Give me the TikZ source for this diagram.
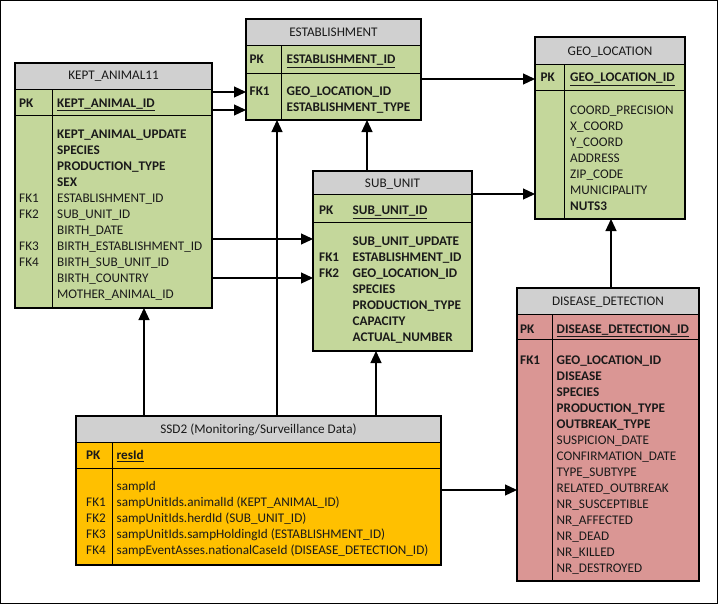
\documentclass[tikz,border=0pt]{standalone}
\usepackage{fontspec}
\setmainfont{Carlito}
\usetikzlibrary{arrows.meta}
\definecolor{tgreen}{HTML}{C4D79B}
\definecolor{thead}{HTML}{D0D0D0}
\definecolor{tpink}{HTML}{DA9694}
\definecolor{torange}{HTML}{FFC000}
\definecolor{ink}{HTML}{1A1A1A}
\tikzset{
  sep/.style={line width=1pt},
  tblbox/.style={draw, line width=1.2pt, inner sep=0pt, outer sep=0pt},
  fld/.style={anchor=base west, inner sep=0pt, text=ink, font=\fontsize{13.2}{15}\selectfont},
  hdr/.style={anchor=base, inner sep=0pt, text=ink, font=\fontsize{13.2}{15}\selectfont},
  arr/.style={line width=1.2pt, -{Triangle[length=12pt,width=11pt]}},
}
\newcommand\ertable[8]{%
  \fill[#8] (#2,#3) rectangle (#4,#5);
  \fill[thead] (#2,#3) rectangle (#4,#6);
  \draw[sep] (#2,#6) -- (#4,#6);
  \draw[sep] (#2,#7) -- (#4,#7);
  \node[tblbox, minimum width={#4-#2}, minimum height={#5-#3}] (#1) at ({(#2+#4)/2},{(#3+#5)/2}) {};
}
\begin{document}
\begin{tikzpicture}[x=1pt,y=-1pt]
\useasboundingbox (0,0) rectangle (719,605);
\draw[line width=1pt] (0.5,0.5) rectangle (717.5,603.5);

% KEPT_ANIMAL11
\ertable{ka}{15}{63}{212}{308}{89}{115}{tgreen}
\draw[sep] (52,89) -- (52,308);
\node[hdr] (ka-h) at (113.5,79.5) {KEPT\_ANIMAL11};
\node[fld] (ka-pkl) at (19,107) {\textbf{PK}};
\node[fld] (ka-pk) at (57,107) {\underline{\textbf{KEPT\_ANIMAL\_ID}}};
\foreach \t [count=\i] in {\textbf{KEPT\_ANIMAL\_UPDATE},\textbf{SPECIES},\textbf{PRODUCTION\_TYPE},\textbf{SEX},ESTABLISHMENT\_ID,SUB\_UNIT\_ID,BIRTH\_DATE,BIRTH\_ESTABLISHMENT\_ID,BIRTH\_SUB\_UNIT\_ID,BIRTH\_COUNTRY,MOTHER\_ANIMAL\_ID}
  \node[fld] (ka-f\i) at (57,{138+16*(\i-1)}) {\t};
\node[fld] (ka-l1) at (19,{138+16*4}) {FK1};
\node[fld] (ka-l2) at (19,{138+16*5}) {FK2};
\node[fld] (ka-l3) at (19,{138+16*7}) {FK3};
\node[fld] (ka-l4) at (19,{138+16*8}) {FK4};

% ESTABLISHMENT
\ertable{est}{246}{19}{421}{120}{45}{73}{tgreen}
\draw[sep] (281,45) -- (281,120);
\node[hdr] (est-h) at (333.5,36) {ESTABLISHMENT};
\node[fld] (est-pkl) at (249.5,63.5) {\textbf{PK}};
\node[fld] (est-pk) at (286.5,63.5) {\underline{\textbf{ESTABLISHMENT\_ID}}};
\node[fld] (est-l1) at (249.5,95) {\textbf{FK1}};
\node[fld] (est-f1) at (286.5,95) {\textbf{GEO\_LOCATION\_ID}};
\node[fld] (est-f2) at (286.5,111) {\textbf{ESTABLISHMENT\_TYPE}};

% GEO_LOCATION
\ertable{geo}{535}{37}{685}{219}{64}{90}{tgreen}
\draw[sep] (564,64) -- (564,219);
\node[hdr] (geo-h) at (610,55) {GEO\_LOCATION};
\node[fld] (geo-pkl) at (540.5,81.7) {\textbf{PK}};
\node[fld] (geo-pk) at (570,81.7) {\underline{\textbf{GEO\_LOCATION\_ID}}};
\foreach \t [count=\i] in {COORD\_PRECISION,X\_COORD,Y\_COORD,ADDRESS,ZIP\_CODE,MUNICIPALITY,\textbf{NUTS3}}
  \node[fld] (geo-f\i) at (570,{114+16*(\i-1)}) {\t};

% SUB_UNIT
\ertable{su}{313}{171}{472}{351}{194}{222}{tgreen}
\node[hdr] (su-h) at (392.5,187.5) {SUB\_UNIT};
\node[fld] (su-pkl) at (319,214.7) {\textbf{PK}};
\node[fld] (su-pk) at (352.5,214.7) {\underline{\textbf{SUB\_UNIT\_ID}}};
\foreach \t [count=\i] in {SUB\_UNIT\_UPDATE,ESTABLISHMENT\_ID,GEO\_LOCATION\_ID,SPECIES,PRODUCTION\_TYPE,CAPACITY,ACTUAL\_NUMBER}
  \node[fld] (su-f\i) at (352.5,{245.7+16*(\i-1)}) {\textbf{\t}};
\node[fld] (su-l1) at (319,261.7) {\textbf{FK1}};
\node[fld] (su-l2) at (319,277.7) {\textbf{FK2}};

% DISEASE_DETECTION
\ertable{dd}{517}{288}{699}{581}{314}{339}{tpink}
\draw[sep] (552,314) -- (552,581);
\node[hdr] (dd-h) at (608,305.5) {DISEASE\_DETECTION};
\node[fld] (dd-pkl) at (520,333.3) {\textbf{PK}};
\node[fld] (dd-pk) at (556.5,333.3) {\underline{\textbf{DISEASE\_DETECTION\_ID}}};
\foreach \t [count=\i] in {\textbf{GEO\_LOCATION\_ID},\textbf{DISEASE},\textbf{SPECIES},\textbf{PRODUCTION\_TYPE},\textbf{OUTBREAK\_TYPE},SUSPICION\_DATE,CONFIRMATION\_DATE,TYPE\_SUBTYPE,RELATED\_OUTBREAK,NR\_SUSCEPTIBLE,NR\_AFFECTED,NR\_DEAD,NR\_KILLED,NR\_DESTROYED}
  \node[fld] (dd-f\i) at (556.5,{364+16*(\i-1)}) {\t};
\node[fld] (dd-l1) at (520,364) {\textbf{FK1}};

% SSD2
\ertable{ssd}{76}{416}{441}{565}{442}{468}{torange}
\draw[sep] (112,442) -- (112,565);
\node[hdr] (ssd-h) at (258.5,433.5) {SSD2 (Monitoring/Surveillance Data)};
\node[fld] (ssd-pkl) at (86,459.7) {\textbf{PK}};
\node[fld] (ssd-pk) at (116.5,459.7) {\underline{\textbf{resId}}};
\foreach \t [count=\i] in {sampId,sampUnitIds.animalId (KEPT\_ANIMAL\_ID),sampUnitIds.herdId (SUB\_UNIT\_ID),sampUnitIds.sampHoldingId (ESTABLISHMENT\_ID),sampEventAsses.nationalCaseId (DISEASE\_DETECTION\_ID)}
  \node[fld] (ssd-f\i) at (116.5,{490.7+15.85*(\i-1)}) {\t};
\foreach \i in {1,...,4}
  \node[fld] (ssd-l\i) at (86,{490.7+15.85*\i}) {FK\i};

% connectors
\draw[arr] (ka.east |- 0,92) -- (est.west |- 0,92);
\draw[arr] (ka.east |- 0,110) -- (est.west |- 0,110);
\draw[arr] (est.east |- 0,79) -- (geo.west |- 0,79);
\draw[arr] (ka.east |- 0,239) -- (su.west |- 0,239);
\draw[arr] (ka.east |- 0,278) -- (su.west |- 0,278);
\draw[arr] (su.north -| 367,0) -- (est.south -| 367,0);
\draw[arr] (su.east |- 0,194) -- (geo.west |- 0,194);
\draw[arr] (dd.north -| 611,0) -- (geo.south -| 611,0);
\draw[arr] (ssd.north -| 144,0) -- (ka.south -| 144,0);
\draw[arr] (ssd.north -| 277,0) -- (est.south -| 277,0);
\draw[arr] (ssd.north -| 376,0) -- (su.south -| 376,0);
\draw[arr] (ssd.east |- 0,490) -- (dd.west |- 0,490);
\end{tikzpicture}
\end{document}
